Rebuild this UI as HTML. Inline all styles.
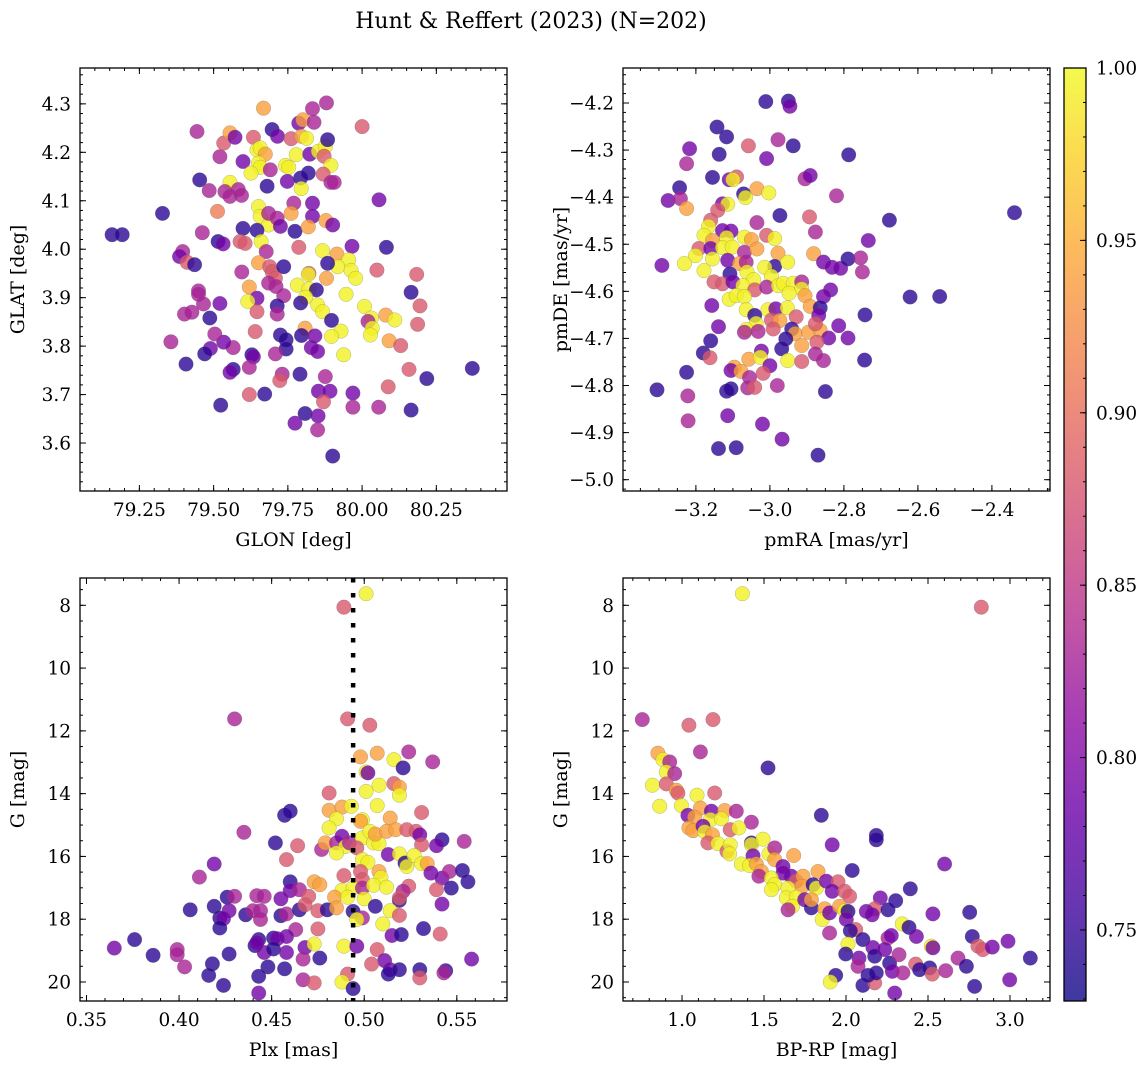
<!DOCTYPE html>
<html><head><meta charset="utf-8">
<style>
html,body{margin:0;padding:0;background:#fff;}
svg{display:block;font-family:"DejaVu Serif","Liberation Serif",serif;}
</style></head>
<body>
<svg id="fig" width="1148" height="1068" viewBox="0 0 1148 1068" xmlns="http://www.w3.org/2000/svg">
<defs>
<linearGradient id="plasmaGrad" x1="0" y1="1" x2="0" y2="0"></linearGradient>
<clipPath id="c1"><rect x="80" y="68" width="427" height="423"/></clipPath>
<clipPath id="c2"><rect x="623" y="68" width="427" height="423"/></clipPath>
<clipPath id="c3"><rect x="80" y="578" width="427" height="423"/></clipPath>
<clipPath id="c4"><rect x="623" y="578" width="427" height="423"/></clipPath>
</defs>
<text x="531" y="28" text-anchor="middle" font-size="22">Hunt &amp; Reffert (2023) (N=202)</text>
</svg>
<script>
// ---------- data ----------
const p1GLON=[79.158,79.192,79.328,79.444,79.453,79.485,79.513,79.521,79.534,79.555,79.572,79.555,79.538,79.555,79.583,79.594,79.599,79.634,79.646,79.657,79.674,79.651,79.657,79.626,79.691,79.697,79.715,79.680,79.761,79.787,79.801,79.838,79.833,79.880,79.668,79.796,79.813,79.778,79.742,79.753,79.748,79.793,79.819,79.795,79.824,79.853,79.876,79.884,79.872,79.895,79.869,79.895,79.906,80.000,80.057,79.651,79.657,79.685,79.685,79.714,79.725,79.599,79.646,79.462,79.515,79.532,79.589,79.606,79.660,79.677,79.770,79.761,79.833,79.833,79.774,79.819,79.878,79.901,79.787,79.867,79.915,79.966,80.082,79.955,79.918,79.963,79.978,79.884,80.050,80.184,79.396,79.385,79.411,79.436,79.651,79.689,79.697,79.736,79.708,79.595,79.620,79.685,79.710,79.782,79.821,79.819,79.821,79.846,79.880,79.946,79.810,79.793,79.736,79.646,79.615,79.646,79.714,79.714,79.449,79.449,79.466,79.521,79.402,79.427,79.487,79.850,79.867,79.897,80.008,80.031,80.020,80.034,80.028,80.080,80.110,80.091,80.130,80.165,80.195,80.187,79.929,79.897,79.938,79.808,79.796,79.841,79.829,79.850,79.725,79.744,79.744,79.708,79.640,79.629,79.634,79.566,79.534,79.504,79.489,79.470,79.356,79.407,79.566,79.555,79.620,79.731,79.723,79.791,79.876,79.853,79.892,79.969,79.870,79.969,80.056,80.088,80.158,80.218,80.165,80.371,79.620,79.672,79.524,79.808,79.852,79.774,79.850,79.901];
const p1GLAT=[4.030,4.030,4.074,4.243,4.143,4.121,4.078,4.191,4.219,4.240,4.231,4.138,4.119,4.109,4.123,4.111,4.181,4.231,4.205,4.209,4.196,4.178,4.169,4.157,4.164,4.247,4.233,4.130,4.228,4.260,4.267,4.262,4.290,4.302,4.291,4.233,4.229,4.195,4.173,4.169,4.140,4.147,4.157,4.125,4.196,4.202,4.212,4.226,4.192,4.173,4.155,4.138,4.138,4.253,4.102,4.088,4.068,4.050,4.074,4.064,4.047,4.043,4.039,4.034,4.016,4.011,4.016,4.012,4.016,3.995,4.095,4.074,4.095,4.068,4.037,4.046,4.059,4.050,4.004,3.997,3.990,4.006,4.004,3.978,3.964,3.956,3.940,3.971,3.957,3.948,3.995,3.985,3.973,3.968,3.972,3.964,3.954,3.964,3.940,3.953,3.922,3.930,3.923,3.926,3.950,3.948,3.918,3.916,3.940,3.907,3.901,3.889,3.904,3.899,3.892,3.871,3.883,3.866,3.914,3.907,3.887,3.888,3.866,3.870,3.858,3.885,3.871,3.853,3.882,3.858,3.851,3.837,3.823,3.864,3.854,3.811,3.801,3.911,3.883,3.845,3.831,3.820,3.782,3.837,3.822,3.821,3.797,3.789,3.823,3.813,3.794,3.784,3.830,3.782,3.778,3.797,3.808,3.825,3.795,3.784,3.809,3.763,3.752,3.746,3.756,3.742,3.729,3.742,3.737,3.707,3.707,3.703,3.685,3.674,3.674,3.716,3.752,3.733,3.668,3.754,3.700,3.701,3.678,3.661,3.656,3.641,3.627,3.573];
const p1Prob=[.745,.745,.745,.83,.745,.83,.91,.83,.88,.94,.79,.995,.83,.83,.83,.83,.79,.88,.995,.995,.94,.995,.995,.995,.83,.745,.79,.745,.88,.79,.94,.83,.83,.83,.94,.94,.995,.995,.995,.995,.79,.745,.745,.995,.79,.995,.995,.745,.88,.995,.88,.83,.83,.88,.79,.995,.995,.995,.83,.83,.79,.745,.745,.83,.745,.79,.88,.88,.995,.83,.83,.94,.79,.79,.745,.94,.94,.79,.88,.995,.94,.79,.745,.995,.995,.995,.995,.745,.88,.88,.83,.79,.88,.745,.94,.88,.88,.745,.88,.83,.94,.83,.83,.995,.88,.995,.995,.745,.94,.995,.995,.745,.83,.79,.995,.88,.745,.83,.83,.83,.83,.79,.83,.83,.745,.995,.995,.745,.995,.995,.83,.995,.995,.94,.995,.94,.88,.745,.88,.88,.995,.995,.995,.94,.745,.79,.79,.79,.745,.745,.745,.83,.88,.745,.79,.83,.79,.83,.79,.745,.83,.745,.745,.79,.83,.83,.88,.745,.83,.79,.79,.79,.88,.83,.83,.88,.88,.745,.745,.745,.88,.745,.745,.745,.79,.79,.83,.745];

const p2pmRA=[-3.011,-2.950,-2.946,-3.143,-3.117,-3.217,-3.137,-3.058,-2.978,-2.937,-3.009,-2.787,-3.225,-3.155,-3.110,-3.090,-3.100,-3.244,-3.275,-3.242,-3.225,-3.071,-3.066,-3.035,-3.003,-2.905,-2.891,-2.820,-3.128,-3.114,-3.141,-2.973,-2.893,-2.877,-2.677,-2.339,-2.734,-3.035,-3.160,-3.166,-3.128,-3.105,-3.178,-3.155,-3.117,-3.069,-3.050,-3.009,-2.987,-3.192,-3.201,-3.160,-3.128,-3.102,-3.069,-3.035,-2.978,-2.882,-3.292,-3.231,-3.155,-3.114,-3.082,-3.064,-2.987,-2.952,-3.014,-2.855,-2.832,-2.809,-2.789,-2.755,-2.750,-3.178,-3.108,-3.062,-3.044,-2.996,-3.151,-3.128,-3.100,-3.073,-3.041,-3.009,-2.977,-2.964,-2.937,-2.914,-2.914,-2.948,-2.905,-2.836,-2.855,-3.110,-3.091,-3.069,-3.157,-2.621,-2.541,-3.064,-3.005,-2.984,-2.953,-2.891,-2.864,-2.743,-3.041,-3.037,-2.996,-2.973,-2.929,-2.868,-3.139,-3.064,-3.069,-3.032,-2.991,-2.941,-2.932,-2.896,-2.864,-2.841,-2.814,-2.877,-3.160,-2.957,-2.914,-2.873,-2.968,-2.789,-3.180,-3.162,-3.023,-2.877,-2.855,-2.744,-3.057,-3.026,-2.952,-2.914,-3.096,-3.105,-3.078,-3.000,-3.018,-3.225,-3.055,-3.305,-3.222,-3.117,-3.105,-3.060,-3.041,-2.980,-2.850,-3.221,-3.114,-3.020,-2.967,-3.139,-3.091,-2.870];
const p2pmDE=[-4.197,-4.196,-4.207,-4.251,-4.272,-4.297,-4.309,-4.291,-4.278,-4.291,-4.318,-4.310,-4.329,-4.358,-4.363,-4.357,-4.363,-4.380,-4.407,-4.403,-4.424,-4.393,-4.401,-4.382,-4.391,-4.361,-4.354,-4.397,-4.414,-4.415,-4.428,-4.439,-4.442,-4.474,-4.449,-4.433,-4.492,-4.454,-4.449,-4.462,-4.471,-4.472,-4.481,-4.492,-4.486,-4.485,-4.490,-4.481,-4.488,-4.509,-4.524,-4.509,-4.507,-4.506,-4.517,-4.510,-4.519,-4.520,-4.545,-4.541,-4.531,-4.534,-4.541,-4.538,-4.547,-4.538,-4.549,-4.538,-4.549,-4.551,-4.531,-4.529,-4.559,-4.556,-4.563,-4.559,-4.575,-4.568,-4.580,-4.584,-4.580,-4.588,-4.597,-4.591,-4.588,-4.583,-4.583,-4.580,-4.595,-4.604,-4.609,-4.597,-4.611,-4.617,-4.609,-4.611,-4.630,-4.612,-4.611,-4.639,-4.639,-4.637,-4.635,-4.632,-4.635,-4.650,-4.651,-4.668,-4.661,-4.662,-4.654,-4.651,-4.675,-4.681,-4.687,-4.685,-4.680,-4.680,-4.690,-4.687,-4.683,-4.699,-4.673,-4.669,-4.705,-4.701,-4.715,-4.708,-4.722,-4.699,-4.731,-4.741,-4.727,-4.733,-4.747,-4.746,-4.744,-4.740,-4.747,-4.749,-4.761,-4.768,-4.770,-4.758,-4.774,-4.772,-4.783,-4.809,-4.822,-4.812,-4.807,-4.805,-4.804,-4.800,-4.813,-4.875,-4.864,-4.882,-4.914,-4.934,-4.932,-4.948];
const p2Prob=[.745,.745,.79,.745,.745,.79,.745,.88,.83,.745,.79,.745,.83,.745,.79,.88,.995,.745,.79,.83,.94,.745,.995,.94,.995,.83,.79,.83,.79,.995,.88,.745,.88,.83,.745,.745,.79,.83,.88,.995,.79,.79,.995,.94,.995,.995,.94,.88,.995,.88,.995,.79,.995,.995,.83,.94,.94,.94,.79,.995,.995,.79,.94,.83,.745,.995,.995,.79,.79,.79,.745,.83,.83,.995,.745,.995,.995,.995,.88,.88,.79,.995,.88,.83,.995,.995,.995,.83,.995,.995,.94,.79,.79,.995,.995,.995,.79,.745,.745,.995,.995,.79,.995,.94,.745,.745,.745,.995,.88,.94,.88,.79,.79,.995,.83,.83,.88,.745,.94,.94,.94,.79,.79,.88,.745,.745,.94,.88,.745,.79,.745,.88,.79,.83,.83,.745,.94,.995,.995,.88,.94,.79,.94,.79,.88,.745,.83,.745,.83,.745,.745,.83,.88,.83,.745,.83,.79,.79,.79,.745,.745,.745];

const p3Plx=[0.501,0.489,0.430,0.491,0.503,0.498,0.507,0.516,0.524,0.537,0.521,0.501,0.502,0.481,0.501,0.508,0.516,0.519,0.519,0.531,0.457,0.460,0.481,0.488,0.493,0.507,0.485,0.481,0.499,0.498,0.514,0.435,0.452,0.464,0.477,0.479,0.485,0.488,0.490,0.485,0.492,0.499,0.503,0.505,0.508,0.506,0.512,0.517,0.523,0.528,0.530,0.542,0.539,0.554,0.531,0.458,0.496,0.499,0.502,0.513,0.519,0.522,0.523,0.527,0.531,0.534,0.419,0.411,0.498,0.508,0.509,0.536,0.542,0.546,0.553,0.556,0.489,0.499,0.460,0.473,0.476,0.460,0.465,0.488,0.494,0.499,0.505,0.512,0.524,0.521,0.539,0.547,0.426,0.430,0.442,0.446,0.455,0.470,0.484,0.491,0.500,0.506,0.519,0.519,0.542,0.406,0.419,0.427,0.422,0.424,0.436,0.440,0.444,0.444,0.455,0.458,0.465,0.468,0.475,0.480,0.485,0.494,0.499,0.496,0.514,0.519,0.510,0.422,0.463,0.475,0.532,0.541,0.515,0.520,0.376,0.365,0.399,0.399,0.386,0.427,0.403,0.418,0.416,0.424,0.443,0.441,0.442,0.451,0.453,0.458,0.446,0.451,0.458,0.468,0.473,0.467,0.476,0.448,0.457,0.443,0.443,0.467,0.473,0.489,0.496,0.507,0.511,0.504,0.514,0.513,0.519,0.530,0.530,0.544,0.543,0.558,0.491,0.488,0.494];
const p3G=[7.63,8.06,11.62,11.62,11.82,12.83,12.71,12.92,12.67,12.99,13.18,13.31,13.34,13.98,13.93,13.73,13.68,13.79,14.05,14.60,14.69,14.56,14.53,14.43,14.40,14.38,14.80,15.09,14.83,14.88,14.78,15.23,15.57,15.66,15.78,15.57,15.57,15.36,15.68,15.89,15.57,15.41,15.20,15.57,15.59,15.29,15.20,15.15,15.15,15.20,15.31,15.47,15.66,15.52,15.63,16.10,15.73,16.10,16.19,15.94,15.92,16.21,16.32,15.97,16.23,16.23,16.24,16.66,16.48,16.48,16.67,16.53,16.69,16.48,16.45,16.81,16.61,16.74,16.81,16.81,16.90,17.09,17.06,17.08,17.01,17.01,16.92,16.98,16.95,17.11,17.06,17.01,17.30,17.27,17.25,17.27,17.35,17.27,17.30,17.30,17.35,17.59,17.40,17.32,17.52,17.70,17.59,17.73,17.96,17.98,17.86,17.73,17.73,18.01,17.89,17.83,17.70,17.54,17.73,17.70,17.64,17.75,17.96,18.01,17.73,17.88,18.15,18.28,18.33,18.31,18.30,18.47,18.52,18.49,18.65,18.92,18.97,19.13,19.15,19.11,19.52,19.42,19.79,20.11,18.65,18.84,18.75,18.60,18.62,18.55,19.06,18.95,19.06,18.90,18.79,19.27,19.24,19.52,19.58,19.82,20.35,19.93,20.03,18.86,18.86,18.97,19.32,19.43,19.61,19.75,19.61,19.61,19.87,19.64,19.71,19.27,19.75,20.00,20.21];
const p3Prob=[.995,.88,.83,.88,.88,.94,.94,.995,.83,.83,.745,.995,.79,.88,.995,.995,.88,.94,.995,.88,.745,.745,.94,.94,.995,.995,.995,.995,.995,.94,.94,.83,.745,.88,.83,.94,.83,.79,.995,.995,.83,.995,.995,.995,.995,.94,.94,.94,.88,.88,.79,.745,.79,.83,.88,.88,.88,.995,.995,.79,.995,.745,.995,.995,.995,.94,.79,.83,.88,.94,.995,.79,.79,.83,.745,.745,.88,.88,.745,.94,.94,.79,.83,.995,.995,.83,.995,.995,.88,.83,.88,.745,.745,.83,.83,.83,.79,.88,.94,.995,.995,.745,.745,.88,.79,.745,.745,.79,.745,.79,.745,.83,.83,.83,.745,.83,.745,.88,.88,.745,.94,.745,.83,.995,.995,.88,.995,.745,.83,.88,.745,.88,.79,.745,.745,.79,.83,.83,.745,.745,.83,.745,.745,.745,.745,.745,.79,.745,.79,.79,.79,.745,.79,.79,.995,.83,.745,.745,.745,.745,.79,.83,.88,.995,.79,.88,.79,.88,.79,.745,.745,.745,.88,.745,.83,.79,.88,.995,.745];

const p4BPRP=[1.368,2.825,0.758,1.042,1.189,1.112,0.853,0.884,0.925,0.904,0.955,1.524,0.819,0.904,0.965,0.975,1.091,1.199,0.864,0.996,1.112,1.179,1.260,1.331,1.423,1.036,1.077,1.173,1.240,1.042,1.067,1.128,1.138,1.185,1.294,1.347,1.158,1.219,1.274,1.294,1.290,1.423,1.423,1.494,1.433,1.362,1.412,1.453,1.484,1.469,1.530,1.565,1.565,1.681,1.616,1.616,1.545,1.565,1.545,1.666,1.697,1.738,1.733,1.829,1.799,1.819,1.646,1.636,1.697,1.673,1.646,1.748,1.789,1.789,1.880,1.951,1.916,1.992,2.022,1.870,1.855,1.900,1.961,1.992,2.012,2.002,1.900,2.038,1.849,1.916,2.185,2.185,2.601,2.392,2.303,2.209,2.175,2.124,2.160,2.256,2.530,2.754,2.343,2.384,2.059,2.026,2.103,2.012,1.998,2.079,2.073,2.164,2.175,2.256,2.276,2.236,2.266,2.323,2.282,2.347,2.297,2.429,2.520,2.530,2.425,2.449,2.510,2.526,2.608,2.683,2.734,2.770,2.805,2.835,2.892,2.988,3.124,2.998,2.784,2.103,2.175,2.134,2.185,1.937,1.904];
const p4G=[7.63,8.06,11.64,11.82,11.64,12.67,12.71,12.92,12.99,13.31,13.36,13.18,13.73,13.69,13.89,13.98,14.05,13.98,14.40,14.38,14.46,14.56,14.54,14.56,14.91,14.69,14.75,14.83,14.80,15.09,15.18,15.04,15.22,15.31,15.15,15.09,15.57,15.59,15.84,15.63,15.92,15.57,15.62,15.45,15.98,16.24,16.29,16.24,16.48,16.63,15.92,15.73,16.10,15.97,16.32,16.53,16.69,16.90,17.06,16.63,16.79,16.63,16.95,16.48,16.90,17.01,17.01,17.32,17.30,17.59,17.70,17.38,17.64,17.38,16.79,16.81,17.11,17.11,17.27,17.67,18.01,17.80,17.59,17.73,17.75,18.01,18.44,16.45,14.69,15.63,15.33,15.47,16.24,17.03,17.41,17.32,17.67,17.75,17.86,17.70,17.83,17.78,18.15,18.26,18.33,18.37,18.65,18.79,19.11,19.24,19.50,18.90,19.18,18.60,18.52,18.97,19.40,19.13,19.66,19.71,20.35,18.55,18.86,18.91,19.43,19.61,19.55,19.75,19.64,19.24,19.50,18.55,18.86,18.97,18.89,18.70,19.24,19.93,20.14,20.11,20.03,19.79,19.71,19.79,20.00];
const p4Prob=[.995,.88,.83,.88,.88,.83,.94,.995,.83,.995,.83,.745,.995,.88,.94,.88,.995,.88,.995,.995,.94,.79,.94,.83,.83,.79,.94,.995,.995,.94,.94,.79,.995,.94,.88,.995,.88,.995,.88,.995,.995,.745,.995,.995,.79,.995,.995,.94,.94,.83,.995,.83,.94,.94,.79,.79,.995,.995,.995,.79,.88,.94,.94,.94,.745,.995,.995,.995,.995,.995,.83,.79,.745,.94,.79,.88,.79,.88,.88,.94,.995,.79,.94,.995,.745,.79,.83,.745,.745,.79,.745,.745,.79,.745,.745,.79,.88,.79,.79,.745,.79,.745,.995,.745,.88,.745,.745,.995,.745,.79,.83,.79,.745,.83,.79,.79,.745,.83,.79,.83,.79,.79,.995,.79,.88,.745,.745,.88,.83,.83,.745,.745,.88,.88,.79,.79,.745,.79,.745,.745,.88,.745,.745,.745,.995];

const cbTicks=[0.75,0.80,0.85,0.90,0.95,1.00];
const plxLine=[0.494];

// ---------- helpers ----------
const NS="http://www.w3.org/2000/svg";
const svg=document.getElementById('fig');
function mk(tag,attrs,parent){const e=document.createElementNS(NS,tag);for(const k in attrs)e.setAttribute(k,attrs[k]);(parent||svg).appendChild(e);return e;}
const stops=[[0,'#0d0887'],[0.1,'#41049d'],[0.2,'#6a00a8'],[0.3,'#8f0da4'],[0.4,'#b12a90'],[0.5,'#cc4778'],[0.6,'#e16462'],[0.7,'#f2844b'],[0.8,'#fca636'],[0.9,'#fcce25'],[1,'#f0f921']];
const CMIN=0.7294,CMAX=1.0;
function hex(h){return [parseInt(h.substr(1,2),16),parseInt(h.substr(3,2),16),parseInt(h.substr(5,2),16)];}
function plasma(v){let t=(v-CMIN)/(CMAX-CMIN);t=Math.max(0,Math.min(1,t));
 for(let i=0;i<stops.length-1;i++){if(t<=stops[i+1][0]){const a=hex(stops[i][1]),b=hex(stops[i+1][1]);const f=(t-stops[i][0])/(stops[i+1][0]-stops[i][0]);return 'rgb('+a.map((c,j)=>Math.round(c+(b[j]-c)*f)).join(',')+')';}}
 return stops[stops.length-1][1];}
const fmt=(v,d)=>(v<0?'\u2212':'')+Math.abs(v).toFixed(d);
const TFS=18.5, LFS=19;

function panel(o){
 const {x0,y0,w,h,xd,yd,inv}=o;
 const sx=v=>x0+(v-xd[0])/(xd[1]-xd[0])*w;
 const sy=inv? v=>y0+(v-yd[0])/(yd[1]-yd[0])*h : v=>y0+h-(v-yd[0])/(yd[1]-yd[0])*h;
 const g=mk('g',{});
 
 
 const pts=mk('g',{'clip-path':'url(#'+o.clip+')'},g);
 
 
 for(let i=0;i<o.xs.length;i++){
  const c=mk('circle',{cx:sx(o.xs[i]).toFixed(1),cy:sy(o.ys[i]).toFixed(1),r:7.3,fill:plasma(o.cs[i]),'fill-opacity':0.8,stroke:'#666','stroke-width':0.5,'stroke-opacity':0.45},pts);
  
  
 }
 if(o.vline){for(const v of o.vline){const l=mk('line',{x1:sx(v),x2:sx(v),y1:y0,y2:y0+h,stroke:'#000','stroke-width':4.5,'stroke-dasharray':'4.5 10.5'},g);
  
  }}
 const fr=mk('rect',{x:x0,y:y0,width:w,height:h,fill:'none',stroke:'#000','stroke-width':1.3},g);
 
 
 const tk=mk('g',{stroke:'#000','stroke-width':1},g);
 const eps=1e-9;
 for(let v=Math.ceil(xd[0]/o.xmin-eps)*o.xmin; v<=xd[1]+eps; v+=o.xmin){const X=sx(v);mk('line',{x1:X,x2:X,y1:y0+h,y2:y0+h-3},tk);mk('line',{x1:X,x2:X,y1:y0,y2:y0+3},tk);}
 for(const v of o.xmaj){const X=sx(v);mk('line',{x1:X,x2:X,y1:y0+h,y2:y0+h-6},tk);mk('line',{x1:X,x2:X,y1:y0,y2:y0+6},tk);
  const t=mk('text',{x:X,y:y0+h+25,'text-anchor':'middle','font-size':TFS},g);t.textContent=fmt(v,o.xdec);
  
  }
 const lo=Math.min(yd[0],yd[1]),hi=Math.max(yd[0],yd[1]);
 for(let v=Math.ceil(lo/o.ymin-eps)*o.ymin; v<=hi+eps; v+=o.ymin){const Y=sy(v);mk('line',{x1:x0,x2:x0+3,y1:Y,y2:Y},tk);mk('line',{x1:x0+w,x2:x0+w-3,y1:Y,y2:Y},tk);}
 for(const v of o.ymaj){const Y=sy(v);mk('line',{x1:x0,x2:x0+6,y1:Y,y2:Y},tk);mk('line',{x1:x0+w,x2:x0+w-6,y1:Y,y2:Y},tk);
  const t=mk('text',{x:x0-9,y:Y+6.5,'text-anchor':'end','font-size':TFS},g);t.textContent=fmt(v,o.ydec);
  
  }
 const xl=mk('text',{x:x0+w/2,y:y0+h+55,'text-anchor':'middle','font-size':LFS},g);xl.textContent=o.xlab;
 
 
 const yx=x0-56,yy=y0+h/2;
 const yl=mk('text',{x:yx,y:yy,'text-anchor':'middle','font-size':LFS,transform:'rotate(-90 '+yx+' '+yy+')'},g);yl.textContent=o.ylab;
 
 
}

panel({name:'glon-glat-panel',clip:'c1',x0:80,y0:68,w:427,h:423,xd:[79.050,80.488],yd:[3.501,4.374],xs:p1GLON,ys:p1GLAT,cs:p1Prob,
 xmaj:[79.25,79.5,79.75,80.0,80.25],xmin:0.05,xdec:2,ymaj:[3.6,3.7,3.8,3.9,4.0,4.1,4.2,4.3],ymin:0.02,ydec:1,xlab:'GLON [deg]',ylab:'GLAT [deg]'});
panel({name:'proper-motion-panel',clip:'c2',x0:623,y0:68,w:427,h:423,xd:[-3.397,-2.243],yd:[-5.024,-4.1257],xs:p2pmRA,ys:p2pmDE,cs:p2Prob,
 xmaj:[-3.2,-3.0,-2.8,-2.6,-2.4],xmin:0.05,xdec:1,ymaj:[-5.0,-4.9,-4.8,-4.7,-4.6,-4.5,-4.4,-4.3,-4.2],ymin:0.02,ydec:1,xlab:'pmRA [mas/yr]',ylab:'pmDE [mas/yr]'});
panel({name:'parallax-magnitude-panel',clip:'c3',x0:80,y0:578,w:427,h:423,xd:[0.3465,0.5771],yd:[7.13,20.606],inv:true,xs:p3Plx,ys:p3G,cs:p3Prob,vline:plxLine,
 xmaj:[0.35,0.40,0.45,0.50,0.55],xmin:0.01,xdec:2,ymaj:[8,10,12,14,16,18,20],ymin:0.5,ydec:0,xlab:'Plx [mas]',ylab:'G [mag]'});
panel({name:'color-magnitude-panel',clip:'c4',x0:623,y0:578,w:427,h:423,xd:[0.640,3.244],yd:[7.13,20.606],inv:true,xs:p4BPRP,ys:p4G,cs:p4Prob,
 xmaj:[1.0,1.5,2.0,2.5,3.0],xmin:0.1,xdec:1,ymaj:[8,10,12,14,16,18,20],ymin:0.5,ydec:0,xlab:'BP-RP [mag]',ylab:'G [mag]'});

// colorbar
const grad=document.getElementById('plasmaGrad');
for(const s of stops){mk('stop',{offset:s[0],'stop-color':s[1],'stop-opacity':0.8},grad);}
const cb=mk('g',{});


const CBX=1064,CBY=68,CBW=22,CBH=933;
const cy=v=>CBY+CBH-(v-CMIN)/(CMAX-CMIN)*CBH;
mk('rect',{x:CBX,y:CBY,width:CBW,height:CBH,fill:'url(#plasmaGrad)'},cb);
mk('rect',{x:CBX,y:CBY,width:CBW,height:CBH,fill:'none',stroke:'#000','stroke-width':1.3},cb);
for(let k=73;k<=100;k++){const v=k/100;if(v<CMIN)continue;const Y=cy(v);mk('line',{x1:CBX+CBW,x2:CBX+CBW-3,y1:Y,y2:Y,stroke:'#000','stroke-width':1},cb);}
for(const v of cbTicks){const Y=cy(v);mk('line',{x1:CBX+CBW,x2:CBX+CBW-6,y1:Y,y2:Y,stroke:'#000','stroke-width':1},cb);
 const t=mk('text',{x:CBX+CBW+10,y:Y+6.5,'font-size':TFS},cb);t.textContent=v.toFixed(2);
 
 }
</script>
</body></html>
